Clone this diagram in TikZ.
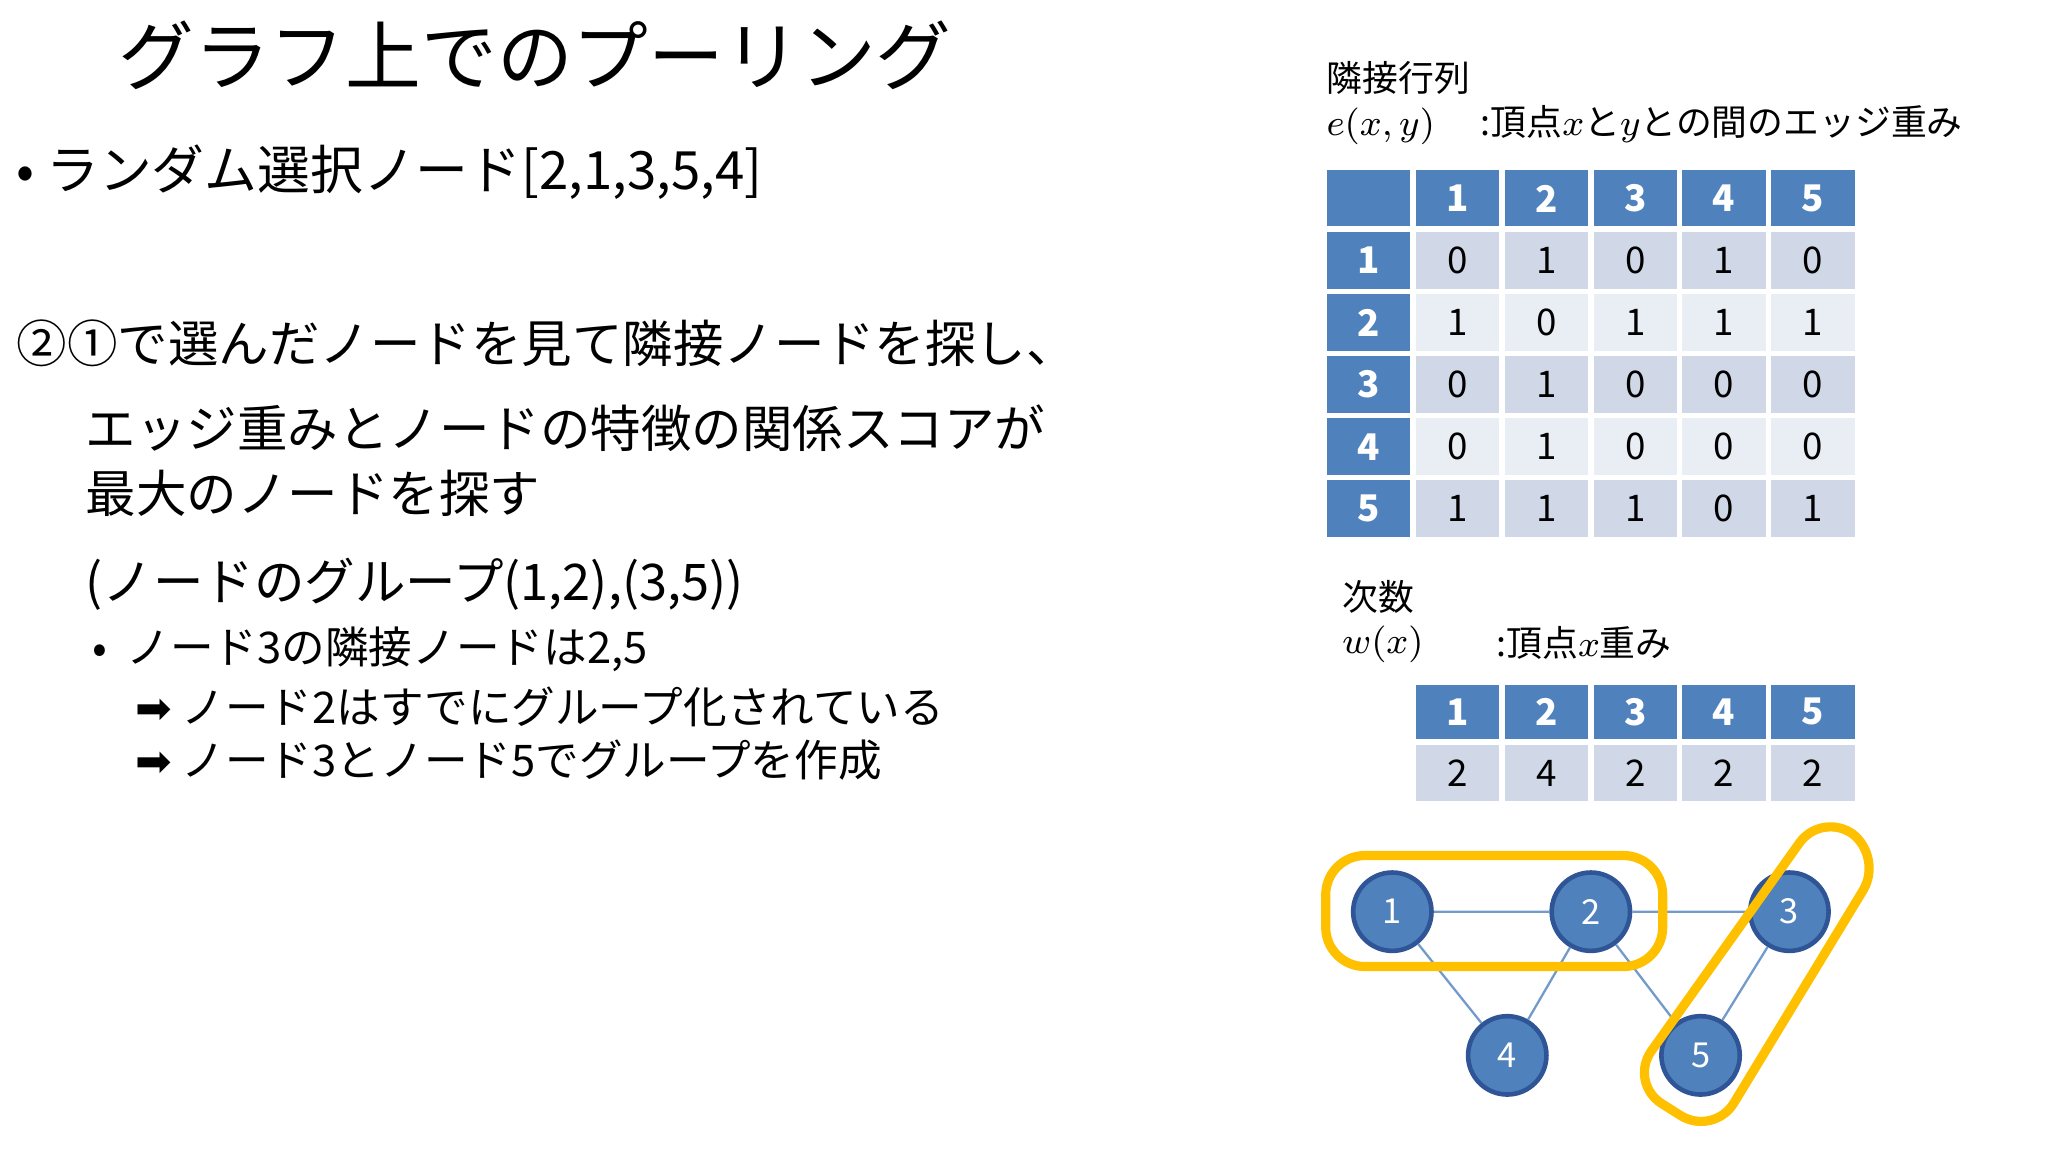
\documentclass[tikz,border=0pt]{standalone}
\usepackage{fontspec}
\setmainfont{Noto Sans CJK JP}
\newfontfamily\dv{DejaVu Sans}
\definecolor{hb}{HTML}{4F81BD}
\definecolor{rd}{HTML}{D0D8E8}
\definecolor{rl}{HTML}{E9EDF4}
\definecolor{yl}{HTML}{FFC000}
\definecolor{ns}{HTML}{2F5597}
\begin{document}
\begin{tikzpicture}[x=0.1mm,y=-0.1mm,
 txt/.style={anchor=west,inner sep=0pt},
 cell/.style={draw=white,line width=1.2pt},
 gnode/.style={circle,draw=ns,fill=hb,line width=1pt,minimum size=6.0mm,text=white,font=\fontsize{7.5}{9}\selectfont},
 gedge/.style={draw=hb!80,line width=0.5pt},
 grp/.style={draw=yl,line width=2pt,rounded corners=3mm}]
\useasboundingbox (0,0) rectangle (1568,882);
\node[txt,font=\fontsize{16.5}{20}\selectfont] (title) at (90,42) {グラフ上でのプーリング};
\node[txt,font=\fontsize{11.5}{14}\selectfont] (b1) at (12,132) {• ランダム選択ノード[2,1,3,5,4]};
\node[txt,font=\fontsize{11}{14}\selectfont] (l1) at (12,263) {②①で選んだノードを見て隣接ノードを探し、};
\node[txt,font=\fontsize{11}{14}\selectfont] (l2) at (65,328) {エッジ重みとノードの特徴の関係スコアが};
\node[txt,font=\fontsize{11}{14}\selectfont] (l3) at (65,378) {最大のノードを探す};
\node[txt,font=\fontsize{11}{14}\selectfont] (l4) at (65,447) {(ノードのグループ(1,2),(3,5))};
\node[txt,font=\fontsize{9.5}{12}\selectfont] (s1) at (70,497) {•\ \ ノード3の隣接ノードは2,5};
\node[txt,font=\fontsize{9.5}{12}\selectfont] (s2) at (103,541) {{\dv ➡} ノード2はすでにグループ化されている};
\node[txt,font=\fontsize{9.5}{12}\selectfont] (s3) at (103,582) {{\dv ➡} ノード3とノード5でグループを作成};
% labels
\node[txt,font=\fontsize{7.8}{10}\selectfont] (adj) at (1015,60) {隣接行列};
\node[txt,font=\fontsize{8}{10}\selectfont] (exy) at (1015,97) {$e(x,y)$};
\node[txt,font=\fontsize{7.8}{10}\selectfont] (exyd) at (1133,95) {:頂点$x$と$y$との間のエッジ重み};
\node[txt,font=\fontsize{7.8}{10}\selectfont] (deg) at (1027,457) {次数};
\node[txt,font=\fontsize{8}{10}\selectfont] (wx) at (1027,493) {$w(x)$};
\node[txt,font=\fontsize{7.8}{10}\selectfont] (wxd) at (1145,492) {:頂点$x$重み};
% adjacency table
\foreach \r in {0,...,5}{
 \foreach \c in {0,...,5}{
  \pgfmathsetmacro\xa{1014+68*\c}\pgfmathsetmacro\xb{\xa+68}
  \pgfmathsetmacro\ya{128+47.5*\r}\pgfmathsetmacro\yb{\ya+47.5}
  \ifnum\r=0 \def\fc{hb}\else\ifnum\c=0 \def\fc{hb}\else\ifodd\r \def\fc{rd}\else\def\fc{rl}\fi\fi\fi
  \fill[\fc] (\xa,\ya) rectangle (\xb,\yb);
  \draw[cell] (\xa,\ya) rectangle (\xb,\yb);
 }}
\foreach \i in {1,...,5}{
 \pgfmathsetmacro\xm{1048+68*\i}\pgfmathsetmacro\ym{152+47.5*\i}
 \node[text=white,font=\bfseries\fontsize{8}{10}\selectfont] (h\i) at (\xm,152) {\i};
 \node[text=white,font=\bfseries\fontsize{8}{10}\selectfont] (v\i) at (1048,\ym) {\i};}
\foreach \row [count=\r] in {{0,1,0,1,0},{1,0,1,1,1},{0,1,0,0,0},{0,1,0,0,0},{1,1,1,0,1}}{
 \foreach \v [count=\c] in \row {
  \pgfmathsetmacro\xm{1048+68*\c}\pgfmathsetmacro\ym{152+47.5*\r}
  \node[font=\fontsize{8}{10}\selectfont] (m\r\c) at (\xm,\ym) {\v};}}
% degree table
\foreach \v [count=\c] in {2,4,2,2,2}{
  \pgfmathsetmacro\xa{1014+68*\c}\pgfmathsetmacro\xb{\xa+68}\pgfmathsetmacro\xm{\xa+34}
  \fill[hb] (\xa,522) rectangle (\xb,568);
  \fill[rd] (\xa,568) rectangle (\xb,615);
  \draw[cell] (\xa,522) rectangle (\xb,568) (\xa,568) rectangle (\xb,615);
  \node[text=white,font=\bfseries\fontsize{8}{10}\selectfont] (dh\c) at (\xm,545) {\c};
  \node[font=\fontsize{8}{10}\selectfont] (dv\c) at (\xm,592) {\v};}
% graph
\node[gnode] (n1) at (1066,698) {1};
\node[gnode] (n2) at (1218,698) {2};
\node[gnode] (n3) at (1370,698) {3};
\node[gnode] (n4) at (1154,808) {4};
\node[gnode] (n5) at (1302,808) {5};
\draw[gedge] (n1)--(n2) (n2)--(n3) (n1)--(n4) (n2)--(n4) (n2)--(n5) (n3)--(n5);
\draw[grp] (1015,655) rectangle (1273,740);
\draw[grp] (1395,621) -- (1442,656) -- (1312,870) -- (1247,829) -- cycle;
\end{tikzpicture}
\end{document}
